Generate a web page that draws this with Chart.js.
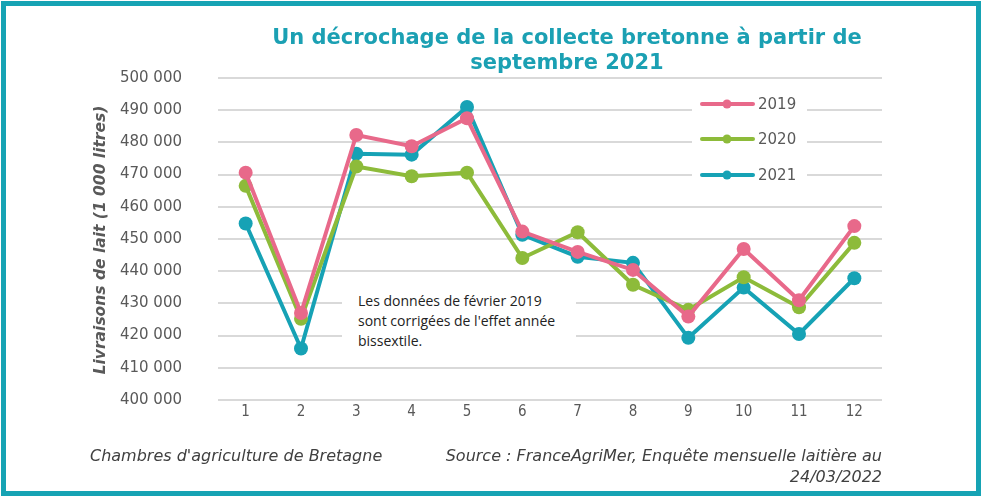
<!DOCTYPE html>
<html>
<head>
<meta charset="utf-8">
<script src="https://cdn.jsdelivr.net/npm/chart.js@4"></script>
<style>
  body { margin: 0; background: #fff; }
  #wrap { position: relative; width: 983px; height: 499px; overflow: hidden; }
  #frame { position: absolute; left: 1px; top: 1px; width: 970px; height: 485px; border: 5px solid #16a3b4; }
  #title { position: absolute; left: 167px; width: 800px; top: 25px; text-align: center;
    font: bold 21px "DejaVu Sans", sans-serif; color: #1ba0b3; line-height: 25px; white-space: nowrap; }
  #ytitle { position: absolute; left: 100px; top: 240px; transform: translate(-50%, -50%) rotate(-90deg);
    font: italic bold 15.5px "DejaVu Sans", sans-serif; color: #595959; white-space: nowrap; }
  #note { position: absolute; left: 342px; top: 288px; width: 234px; height: 66px; background: #fff;
    font: 14px "Open Sans", sans-serif; color: #222; line-height: 20px; padding: 3px 0 0 16px; box-sizing: border-box; white-space: nowrap; }
  .foot { position: absolute; font: italic 16px "DejaVu Sans", sans-serif; color: #404040; white-space: nowrap; line-height: 21px; }
  canvas { position: absolute; left: 0; top: 0; }
</style>
</head>
<body>
<div id="wrap">
  <canvas id="milk" width="983" height="499"></canvas>
  <div id="frame"></div>
  <div id="title">Un décrochage de la collecte bretonne à partir de<br>septembre 2021</div>
  <div id="ytitle">Livraisons de lait (1 000 litres)</div>
  <div id="note">Les données de février 2019<br>sont corrigées de l'effet année<br>bissextile.</div>
  <div class="foot" style="left:90px; top:445px;">Chambres d'agriculture de Bretagne</div>
  <div class="foot" style="right:101px; top:445px; text-align:right;">Source : FranceAgriMer, Enquête mensuelle laitière au<br>24/03/2022</div>
</div>
<script>
const months = ["1","2","3","4","5","6","7","8","9","10","11","12"];
const years = ["2019","2020","2021"];
const colors = ["#e8698a","#8dbb3a","#16a2b5"];

const v2019 = [470600, 427000, 482300, 478800, 487500, 452300, 446000, 440400, 425900, 446900, 431000, 454000];
const v2020 = [466500, 425200, 472500, 469500, 470600, 444100, 452100, 435800, 428000, 438100, 428800, 448800];
const v2021 = [454800, 416000, 476500, 476200, 491000, 451300, 444500, 442600, 419300, 434900, 420500, 437800];

const fmt = v => String(v).replace(/\B(?=(\d{3})+(?!\d))/g, " ");

// legend drawn inside the plot, with white box over the gridlines
const boxLegend = {
  id: "boxLegend",
  afterDatasetsDraw(chart) {
    const ctx = chart.ctx;
    ctx.save();
    ctx.fillStyle = "#fff";
    ctx.fillRect(692, 86, 115, 108);
    const ys = [104, 139, 175];
    chart.data.datasets.forEach((ds, i) => {
      const y = ys[i];
      ctx.strokeStyle = ds.borderColor;
      ctx.lineWidth = 4;
      ctx.lineCap = "round";
      ctx.beginPath();
      ctx.moveTo(702, y);
      ctx.lineTo(753, y);
      ctx.stroke();
      ctx.fillStyle = ds.borderColor;
      ctx.beginPath();
      ctx.arc(727, y, 4.5, 0, Math.PI * 2);
      ctx.fill();
      ctx.fillStyle = "#595959";
      ctx.font = "15px 'DejaVu Sans', sans-serif";
      ctx.textBaseline = "middle";
      ctx.fillText(ds.label, 758, y + 1);
    });
    ctx.restore();
  }
};

const series = [v2019, v2020, v2021];

new Chart(document.getElementById("milk"), {
  type: "line",
  data: {
    labels: months,
    datasets: years.map((y, i) => ({
      label: y,
      data: series[i],
      borderColor: colors[i],
      backgroundColor: colors[i],
      borderWidth: 4,
      pointRadius: 7,
      pointBorderWidth: 0,
      tension: 0
    }))
  },
  options: {
    responsive: false,
    animation: false,
    layout: { padding: { left: 0, top: 78, right: 101, bottom: 69 } },
    plugins: { legend: { display: false }, tooltip: { enabled: false } },
    scales: {
      x: {
        offset: true,
        grid: { display: false, drawTicks: false },
        border: { display: false },
        ticks: { color: "#595959", font: { family: "DejaVu Sans Condensed, DejaVu Sans", size: 15 }, padding: 3, maxRotation: 0 },
        afterFit: s => { s.height = 30; }
      },
      y: {
        min: 400000,
        max: 500000,
        grid: { color: "#d9d9d9", lineWidth: 2, drawTicks: false },
        border: { display: false },
        ticks: { stepSize: 10000, color: "#595959", font: { family: "DejaVu Sans", size: 15 }, padding: 36, callback: v => fmt(v) },
        afterFit: s => { s.width = 218; }
      }
    }
  },
  plugins: [boxLegend]
});
</script>
</body>
</html>
